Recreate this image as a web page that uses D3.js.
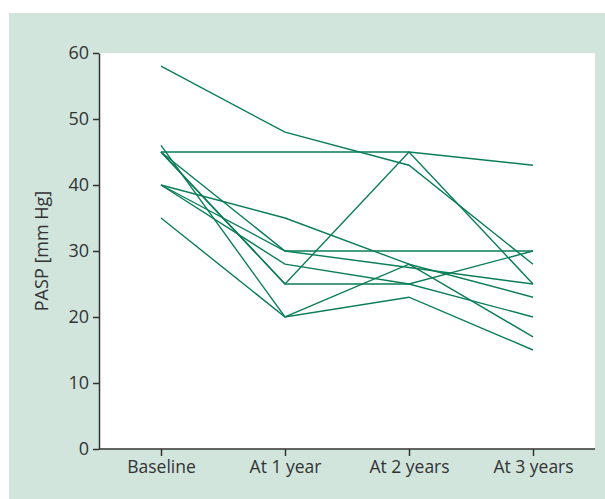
<!DOCTYPE html>
<html lang="en">
<head>
    <meta charset="UTF-8">
    <title>PASP over time</title>
    <script src="https://d3js.org/d3.v7.min.js"></script>
    <style>
        body {
            margin: 0;
            padding: 0;
            background: #fff;
        }
        .axis path, .axis line {
            stroke: #333;
            stroke-width: 1.5;
        }
    </style>
</head>
<body>
    <script>
        // Time points and tick values
        const categories = ["Baseline", "At 1 year", "At 2 years", "At 3 years"];
        const yTicks = [0, 10, 20, 30, 40, 50, 60];

        // One array per patient (PASP, mm Hg)
        const patient1 = [58, 48, 43, 28];
        const patient2 = [45, 45, 45, 43];
        const patient3 = [45, 25, 45, 25];
        const patient4 = [45, 25, 25, 30];
        const patient5 = [45, 30, 30, 30];
        const patient6 = [40, 30, 27.5, 25];
        const patient7 = [40, 35, 28, 17];
        const patient8 = [40, 28, 25, 20];
        const patient9 = [35, 20, 23, 15];
        const patient10 = [46, 20, 28, 23];

        const series = [patient1, patient2, patient3, patient4, patient5,
                        patient6, patient7, patient8, patient9, patient10];

        const width = 605, height = 499;
        const margin = { top: 53, right: 10, bottom: 50, left: 99 };
        const font = "'Open Sans', 'Noto Sans', sans-serif";

        const svg = d3.select("body")
            .append("svg")
            .attr("width", width)
            .attr("height", height);

        // panel background
        svg.append("rect")
            .attr("x", 9).attr("y", 13)
            .attr("width", width - 9).attr("height", height - 13)
            .attr("fill", "#d1e5dc");

        const x = d3.scalePoint()
            .domain(categories)
            .range([margin.left, width - margin.right])
            .padding(0.5);

        const y = d3.scaleLinear()
            .domain([0, 60])
            .range([height - margin.bottom, margin.top]);

        // white plot area
        svg.append("rect")
            .attr("x", margin.left).attr("y", margin.top)
            .attr("width", width - margin.right - margin.left)
            .attr("height", y(0) - margin.top)
            .attr("fill", "#fff");

        const line = d3.line()
            .x((d, i) => x(categories[i]))
            .y(d => y(d));

        svg.append("g")
            .selectAll("path")
            .data(series)
            .enter()
            .append("path")
            .attr("d", line)
            .attr("fill", "none")
            .attr("stroke", "#0b7d57")
            .attr("stroke-width", 1.4);

        // axes
        svg.append("g")
            .attr("class", "axis")
            .attr("transform", `translate(0,${y(0)})`)
            .call(d3.axisBottom(x).tickSize(7).tickSizeOuter(0).tickPadding(5))
            .call(g => g.select(".domain").attr("d", `M${margin.left},0H${width - margin.right}`))
            .call(g => g.selectAll("text")
                .attr("font-family", font)
                .attr("font-size", "17.5px")
                .attr("fill", "#333"));

        svg.append("g")
            .attr("class", "axis")
            .attr("transform", `translate(${margin.left},0)`)
            .call(d3.axisLeft(y).tickValues(yTicks).tickSize(6).tickSizeOuter(0).tickPadding(4))
            .call(g => g.selectAll("text")
                .attr("font-family", font)
                .attr("font-size", "18px")
                .attr("fill", "#333"));

        // y axis title
        svg.append("text")
            .attr("transform", `translate(48,${(margin.top + y(0)) / 2}) rotate(-90)`)
            .attr("text-anchor", "middle")
            .attr("font-family", font)
            .attr("font-size", "18px")
            .attr("fill", "#333")
            .text("PASP [mm Hg]");
    </script>
</body>
</html>
